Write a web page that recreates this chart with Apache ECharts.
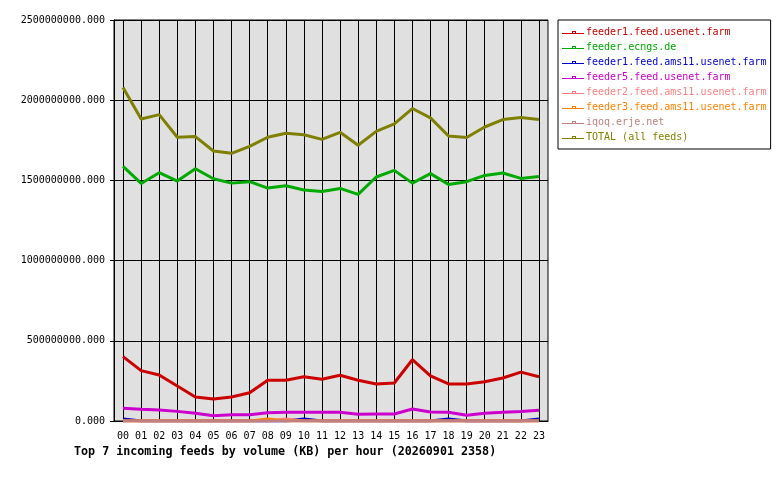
<!DOCTYPE html>
<html>
  <head>
    <meta charset="utf-8" />
    <script src="https://cdn.jsdelivr.net/npm/echarts@6/dist/echarts.min.js"></script>
    <style>
      html, body { margin: 0; padding: 0; background: #fff; }
    </style>
  </head>
  <body>
    <div id="main" style="width: 780px;height:480px;"></div>
    <script type="text/javascript">
      // hours on the x axis
      var hours = ['00', '01', '02', '03', '04', '05', '06', '07', '08', '09', '10', '11',
                   '12', '13', '14', '15', '16', '17', '18', '19', '20', '21', '22', '23'];

      var feedNames = [
        'feeder1.feed.usenet.farm',
        'feeder.ecngs.de',
        'feeder1.feed.ams11.usenet.farm',
        'feeder5.feed.usenet.farm',
        'feeder2.feed.ams11.usenet.farm',
        'feeder3.feed.ams11.usenet.farm',
        'iqoq.erje.net',
        'TOTAL (all feeds)'
      ];
      var feedColors = ['#cc0000', '#00aa00', '#0000cc', '#cc00cc', '#ff8080', '#ff8000', '#c08080', '#808000'];

      // KB per hour
      var feeder1Usenet = [4.01e8, 3.14e8, 2.87e8, 2.18e8, 1.50e8, 1.37e8, 1.50e8, 1.76e8, 2.54e8, 2.54e8, 2.76e8, 2.60e8,
                           2.85e8, 2.54e8, 2.31e8, 2.37e8, 3.82e8, 2.81e8, 2.31e8, 2.31e8, 2.45e8, 2.68e8, 3.05e8, 2.76e8];
      var ecngs = [1.5875e9, 1.481e9, 1.548e9, 1.496e9, 1.573e9, 1.510e9, 1.483e9, 1.492e9, 1.452e9, 1.467e9, 1.440e9, 1.431e9,
                   1.450e9, 1.4125e9, 1.521e9, 1.5625e9, 1.483e9, 1.542e9, 1.475e9, 1.492e9, 1.531e9, 1.546e9, 1.5125e9, 1.525e9];
      var feeder1Ams11 = [1.2e7, 0, 0, 0, 0, 0, 0, 0, 0, 0, 1.2e7, 0,
                          0, 0, 0, 0, 0, 0, 1.2e7, 0, 0, 0, 0, 1.2e7];
      var feeder5Usenet = [8.0e7, 7.3e7, 6.8e7, 6.0e7, 4.8e7, 3.3e7, 3.9e7, 3.9e7, 5.1e7, 5.5e7, 5.5e7, 5.5e7,
                           5.4e7, 4.2e7, 4.4e7, 4.4e7, 7.5e7, 5.6e7, 5.4e7, 3.6e7, 4.8e7, 5.4e7, 5.9e7, 6.7e7];
      var feeder2Ams11 = [0, 0, 0, 0, 0, 0, 0, 0, 0, 1.2e7, 0, 0,
                          0, 0, 0, 0, 0, 0, 0, 0, 0, 0, 0, 0];
      var feeder3Ams11 = [0, 0, 0, 0, 0, 0, 0, 0, 1.2e7, 0, 0, 0,
                          0, 0, 0, 0, 0, 0, 0, 0, 0, 0, 0, 0];
      var iqoq = [0, 0, 0, 0, 0, 0, 0, 0, 0, 0, 0, 0,
                  0, 0, 0, 0, 0, 0, 0, 0, 0, 0, 0, 0];
      var total = [2.079e9, 1.883e9, 1.910e9, 1.769e9, 1.773e9, 1.683e9, 1.669e9, 1.7125e9, 1.769e9, 1.794e9, 1.785e9, 1.756e9,
                   1.800e9, 1.719e9, 1.806e9, 1.852e9, 1.948e9, 1.890e9, 1.777e9, 1.767e9, 1.833e9, 1.879e9, 1.892e9, 1.879e9];

      var feedValues = [feeder1Usenet, ecngs, feeder1Ams11, feeder5Usenet, feeder2Ams11, feeder3Ams11, iqoq, total];

      var mono = 'DejaVu Sans Mono';
      // legend sample: thin line with a small hollow square sitting on it
      var legendIcon = 'path://M0 2H10V3H0Z M14 2H22V3H14Z M10 0H14V1H10Z M10 1H11V3H10Z M13 1H14V3H13Z M11 2H13V3H11Z';

      var myChart = echarts.init(document.getElementById('main'));

      var series = feedNames.map(function (name, i) {
        return {
          name: name,
          type: 'line',
          data: feedValues[i],
          showSymbol: false,
          color: feedColors[i],
          lineStyle: { width: 3, color: feedColors[i] }
        };
      });

      option = {
        animation: false,
        title: {
          text: 'Top 7 incoming feeds by volume (KB) per hour (20260901 2358)',
          left: 74,
          top: 446,
          padding: 0,
          textStyle: { fontFamily: mono, fontWeight: 'bold', fontSize: 11.7, color: '#000' }
        },
        grid: {
          left: 114,
          top: 20,
          width: 434,
          height: 401,
          show: true,
          backgroundColor: '#e0e0e0',
          borderColor: '#000',
          borderWidth: 1
        },
        legend: {
          orient: 'vertical',
          left: 558,
          top: 20,
          padding: [5, 4, 4, 4],
          itemGap: 0,
          itemWidth: 22,
          itemHeight: 3,
          backgroundColor: '#fff',
          borderColor: '#000',
          borderWidth: 1,
          borderRadius: 0,
          itemStyle: { borderWidth: 0 },
          textStyle: { fontFamily: mono, fontSize: 10, lineHeight: 15, padding: [0, 0, 0, -3] },
          data: feedNames.map(function (name, i) {
            return { name: name, icon: legendIcon, textStyle: { color: feedColors[i] } };
          })
        },
        xAxis: {
          type: 'category',
          data: hours,
          boundaryGap: true,
          axisLine: { show: true, lineStyle: { color: '#000' } },
          axisTick: { show: false, alignWithLabel: true },
          axisLabel: { fontFamily: mono, fontSize: 10, color: '#000', margin: 10 },
          splitLine: { show: true, alignWithLabel: true, lineStyle: { color: '#000', width: 1 } }
        },
        yAxis: {
          type: 'value',
          min: 0,
          max: 2500000000,
          interval: 500000000,
          axisLine: { show: true, lineStyle: { color: '#000' } },
          axisTick: { show: true, length: 4, lineStyle: { color: '#000' } },
          axisLabel: {
            fontFamily: mono,
            fontSize: 10,
            color: '#000',
            margin: 9,
            formatter: function (v) { return v.toFixed(3); }
          },
          splitLine: { show: true, lineStyle: { color: '#000', width: 1 } }
        },
        series: series
      };

      myChart.setOption(option);
    </script>
  </body>
</html>
